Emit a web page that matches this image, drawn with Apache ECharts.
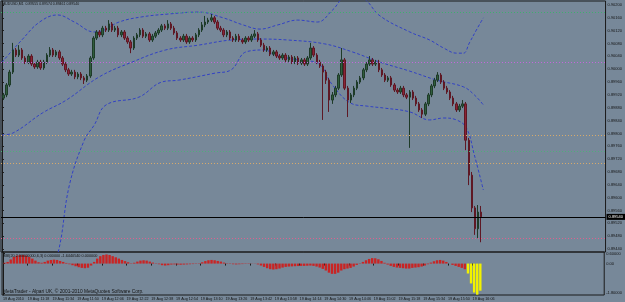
<!DOCTYPE html>
<html>
<head>
<meta charset="utf-8">
<script src="https://cdn.jsdelivr.net/npm/echarts@6/dist/echarts.min.js"></script>
<style>
html, body { margin: 0; padding: 0; background: #778899; }
#chart { width: 625px; height: 302px; }
</style>
</head>
<body>
<div id="chart"></div>
<script>
const symbolName = "AUDUSD,M1";
const oscName = "BBI(20,2.00000000,6,3) 0.000000 -1.6440540 0.000000";
const footerText = "MetaTrader - Alpari UK, \u00a9 2001-2010 MetaQuotes Software Corp.";

// minutes after 11:02, one candle every 2 minutes
const barMinutes = 2;
const firstBarMinute = 1;

const timeTicks = [0, 16, 32, 48, 64, 80, 96, 112, 128, 144, 160, 176, 192, 208, 224, 240, 256, 272, 288, 304];
const timeLabels = ["19 Aug 2010", "19 Aug 11:18", "19 Aug 11:34", "19 Aug 11:50", "19 Aug 12:06",
  "19 Aug 12:22", "19 Aug 12:38", "19 Aug 12:54", "19 Aug 13:10", "19 Aug 13:26", "19 Aug 13:42",
  "19 Aug 13:58", "19 Aug 14:14", "19 Aug 14:30", "19 Aug 14:46", "19 Aug 15:02", "19 Aug 15:18",
  "19 Aug 15:34", "19 Aug 15:50", "19 Aug 16:06"];

const priceTicks = [0.89440, 0.89480, 0.89520, 0.89560, 0.89600, 0.89640, 0.89680, 0.89720, 0.89760, 0.89800,
  0.89840, 0.89880, 0.89920, 0.89960, 0.90000, 0.90040, 0.90080, 0.90120, 0.90160, 0.90200];
const oscTicks = [0.6, 0, -1.8];

// open, close, low, high
const candles = [
  [0.89910,0.89920,0.89904,0.89926],[0.89920,0.89951,0.89913,0.89957],[0.89951,0.89991,0.89945,0.89998],
  [0.89991,0.90060,0.89985,0.90082],[0.90060,0.90044,0.90038,0.90066],[0.90044,0.90060,0.90038,0.90075],
  [0.90060,0.90035,0.90029,0.90066],[0.90035,0.90022,0.90016,0.90041],[0.90022,0.90041,0.90016,0.90047],
  [0.90041,0.90016,0.90010,0.90047],[0.90016,0.90007,0.90001,0.90022],[0.90007,0.90022,0.90001,0.90029],
  [0.90022,0.90004,0.89998,0.90029],[0.90004,0.90022,0.89998,0.90029],[0.90022,0.90044,0.90016,0.90050],
  [0.90044,0.90060,0.90038,0.90069],[0.90060,0.90044,0.90038,0.90066],[0.90044,0.90054,0.90038,0.90060],
  [0.90054,0.90035,0.90029,0.90060],[0.90035,0.90016,0.90010,0.90041],[0.90016,0.89998,0.89991,0.90022],
  [0.89998,0.89985,0.89979,0.90004],[0.89985,0.89991,0.89979,0.89998],[0.89991,0.89976,0.89969,0.89998],
  [0.89976,0.89985,0.89969,0.89991],[0.89985,0.89973,0.89966,0.89991],[0.89973,0.89966,0.89954,0.89979],
  [0.89966,0.89979,0.89960,0.89985],[0.89979,0.90035,0.89973,0.90041],[0.90035,0.90097,0.90029,0.90103],
  [0.90097,0.90116,0.90091,0.90122],[0.90116,0.90107,0.90100,0.90122],[0.90107,0.90128,0.90100,0.90135],
  [0.90128,0.90122,0.90116,0.90135],[0.90122,0.90141,0.90116,0.90153],[0.90141,0.90122,0.90116,0.90147],
  [0.90122,0.90128,0.90116,0.90135],[0.90128,0.90107,0.90100,0.90135],[0.90107,0.90116,0.90100,0.90122],
  [0.90116,0.90097,0.90091,0.90122],[0.90097,0.90085,0.90079,0.90103],[0.90085,0.90066,0.90050,0.90091],
  [0.90066,0.90097,0.90060,0.90103],[0.90097,0.90107,0.90091,0.90113],[0.90107,0.90122,0.90100,0.90128],
  [0.90122,0.90103,0.90097,0.90128],[0.90103,0.90110,0.90097,0.90116],[0.90110,0.90091,0.90085,0.90116],
  [0.90091,0.90103,0.90085,0.90110],[0.90103,0.90113,0.90097,0.90119],[0.90113,0.90122,0.90107,0.90128],
  [0.90122,0.90135,0.90116,0.90141],[0.90135,0.90128,0.90122,0.90141],[0.90128,0.90141,0.90122,0.90153],
  [0.90141,0.90128,0.90122,0.90147],[0.90128,0.90113,0.90107,0.90135],[0.90113,0.90097,0.90091,0.90119],
  [0.90097,0.90091,0.90085,0.90103],[0.90091,0.90103,0.90085,0.90110],[0.90103,0.90085,0.90079,0.90110],
  [0.90085,0.90097,0.90079,0.90103],[0.90097,0.90091,0.90085,0.90103],[0.90091,0.90107,0.90085,0.90113],
  [0.90107,0.90122,0.90100,0.90128],[0.90122,0.90138,0.90116,0.90147],[0.90138,0.90147,0.90131,0.90166],
  [0.90147,0.90153,0.90141,0.90160],[0.90153,0.90160,0.90147,0.90172],[0.90160,0.90147,0.90141,0.90166],
  [0.90147,0.90128,0.90122,0.90153],[0.90128,0.90122,0.90116,0.90135],[0.90122,0.90107,0.90100,0.90128],
  [0.90107,0.90116,0.90100,0.90122],[0.90116,0.90097,0.90091,0.90122],[0.90097,0.90091,0.90085,0.90103],
  [0.90091,0.90103,0.90085,0.90110],[0.90103,0.90091,0.90085,0.90110],[0.90091,0.90085,0.90079,0.90097],
  [0.90085,0.90097,0.90079,0.90103],[0.90097,0.90091,0.90085,0.90103],[0.90091,0.90103,0.90085,0.90110],
  [0.90103,0.90110,0.90097,0.90122],[0.90110,0.90091,0.90085,0.90116],[0.90091,0.90075,0.90069,0.90097],
  [0.90075,0.90060,0.90054,0.90082],[0.90060,0.90066,0.90054,0.90072],[0.90066,0.90047,0.90041,0.90072],
  [0.90047,0.90054,0.90041,0.90060],[0.90054,0.90041,0.90035,0.90060],[0.90041,0.90035,0.90029,0.90047],
  [0.90035,0.90044,0.90029,0.90050],[0.90044,0.90029,0.90022,0.90050],[0.90029,0.90038,0.90022,0.90044],
  [0.90038,0.90022,0.90016,0.90044],[0.90022,0.90035,0.90016,0.90041],[0.90035,0.90019,0.90013,0.90041],
  [0.90019,0.90029,0.90013,0.90035],[0.90029,0.90016,0.90010,0.90035],[0.90016,0.90035,0.90010,0.90041],
  [0.90035,0.90066,0.90029,0.90082],[0.90066,0.90044,0.90038,0.90072],[0.90044,0.90022,0.90016,0.90050],
  [0.90022,0.90010,0.90004,0.90029],[0.90010,0.89991,0.89842,0.90016],[0.89991,0.89966,0.89954,0.89998],
  [0.89966,0.89904,0.89867,0.89973],[0.89904,0.89920,0.89892,0.89929],[0.89920,0.89941,0.89913,0.89948],
  [0.89941,0.89982,0.89935,0.89988],[0.89982,0.90029,0.89976,0.90066],[0.90029,0.89941,0.89935,0.90035],
  [0.89941,0.89904,0.89851,0.89948],[0.89904,0.89920,0.89895,0.89926],[0.89920,0.89941,0.89913,0.89948],
  [0.89941,0.89960,0.89935,0.89966],[0.89960,0.89973,0.89954,0.89979],[0.89973,0.89998,0.89966,0.90004],
  [0.89998,0.90016,0.89991,0.90022],[0.90016,0.90029,0.90010,0.90041],[0.90029,0.90016,0.90010,0.90035],
  [0.90016,0.90022,0.90010,0.90029],[0.90022,0.89998,0.89991,0.90029],[0.89998,0.89982,0.89976,0.90004],
  [0.89982,0.89966,0.89960,0.89988],[0.89966,0.89973,0.89960,0.89979],[0.89973,0.89951,0.89945,0.89979],
  [0.89951,0.89935,0.89929,0.89957],[0.89935,0.89929,0.89923,0.89941],[0.89929,0.89941,0.89923,0.89948],
  [0.89941,0.89920,0.89913,0.89948],[0.89920,0.89913,0.89907,0.89926],[0.89913,0.89929,0.89755,0.89935],
  [0.89929,0.89910,0.89904,0.89935],[0.89910,0.89892,0.89885,0.89917],[0.89892,0.89873,0.89867,0.89898],
  [0.89873,0.89860,0.89848,0.89879],[0.89860,0.89892,0.89854,0.89898],[0.89892,0.89920,0.89885,0.89926],
  [0.89920,0.89948,0.89913,0.89954],[0.89948,0.89966,0.89941,0.89973],[0.89966,0.89982,0.89960,0.89991],
  [0.89982,0.89960,0.89954,0.89988],[0.89960,0.89941,0.89935,0.89966],[0.89941,0.89929,0.89923,0.89948],
  [0.89929,0.89910,0.89904,0.89935],[0.89910,0.89892,0.89885,0.89917],[0.89892,0.89873,0.89867,0.89898],
  [0.89873,0.89885,0.89867,0.89892],[0.89885,0.89892,0.89879,0.89904],[0.89892,0.89779,0.89748,0.89898],
  [0.89779,0.89670,0.89639,0.89786],[0.89670,0.89568,0.89555,0.89680],[0.89568,0.89503,0.89484,0.89574],
  [0.89503,0.89555,0.89474,0.89577],[0.89555,0.89540,0.89461,0.89574]
];

// bollinger bands, [minute, price]
const bbUpper = [[0,0.90022],[12.8,0.90091],[24.3,0.90147],[35.8,0.90169],[46.7,0.90147],[59.5,0.90116],
  [65.9,0.90122],[75.5,0.90147],[90.2,0.90163],[107.5,0.90172],[126.7,0.90178],[142.7,0.90160],
  [155.5,0.90138],[166.4,0.90125],[177.9,0.90138],[190.7,0.90153],[203.5,0.90147],[213.1,0.90184],
  [222.7,0.90228],[232.3,0.90222],[243.8,0.90166],[263.0,0.90116],[275.8,0.90091],[284.8,0.90066],
  [293.1,0.90050],[297.6,0.90050],[301.4,0.90082],[305.9,0.90122],[310.4,0.90160]];
const bbMiddle = [[0,0.89795],[7.0,0.89801],[26.2,0.89864],[41.6,0.89904],[62.7,0.89976],[83.8,0.90022],
  [105.6,0.90060],[126.7,0.90075],[147.8,0.90091],[165.1,0.90094],[184.3,0.90091],[208.0,0.90079],
  [225.9,0.90054],[243.8,0.90022],[263.0,0.89994],[280.3,0.89966],[297.6,0.89945],[304.6,0.89920],
  [310.4,0.89889]];
const bbLower = [[0,0.89188],[24.3,0.89281],[35.8,0.89421],[43.5,0.89639],[53.1,0.89779],
  [59.5,0.89826],[67.2,0.89889],[88.3,0.89913],[103.0,0.89960],[113.9,0.89966],[137.6,0.89988],
  [147.8,0.89998],[157.4,0.90054],[169.6,0.90060],[176.0,0.90044],[190.7,0.90029],[203.5,0.90019],
  [213.1,0.89951],[224.6,0.89895],[235.5,0.89885],[246.4,0.89879],[263.0,0.89867],[275.8,0.89842],
  [284.8,0.89848],[293.1,0.89842],[299.5,0.89817],[304.6,0.89733],[310.4,0.89624]];

// horizontal levels
const levelPrices = [0.90178, 0.90022, 0.89795, 0.89745, 0.89708, 0.89474];
const levelColors = ["#3fae6e", "#c466dc", "#d8aa6a", "#4fae7a", "#d8aa6a", "#e0608e"];

// oscillator histogram, one value per candle
const oscValues = [
  0.05,0.1,0.25,0.4,0.48,0.52,0.52,0.48,0.4,0.3,
  0.18,0.08,0.05,0.1,0.18,0.22,0.24,0.22,0.16,0.1,
  0.04,-0.04,-0.1,-0.16,-0.22,-0.26,-0.28,-0.25,-0.12,0.1,
  0.3,0.45,0.52,0.55,0.52,0.45,0.38,0.3,0.22,0.15,
  0.08,0.02,0.05,0.12,0.18,0.2,0.18,0.12,0.06,0.02,
  -0.04,-0.1,-0.12,-0.1,-0.06,-0.05,-0.06,-0.07,-0.06,-0.05,
  -0.04,-0.03,-0.02,0.02,0.08,0.15,0.2,0.22,0.2,0.16,
  0.12,0.06,0.02,-0.02,-0.04,-0.05,-0.04,-0.03,-0.02,-0.02,
  -0.01,0.01,-0.05,-0.12,-0.2,-0.28,-0.34,-0.36,-0.34,-0.3,
  -0.24,-0.2,-0.18,-0.17,-0.16,-0.15,-0.14,-0.14,-0.13,-0.12,
  -0.14,-0.18,-0.24,-0.32,-0.42,-0.55,-0.62,-0.62,-0.55,-0.42,
  -0.34,-0.3,-0.26,-0.18,-0.08,0.02,0.1,0.2,0.28,0.33,
  0.32,0.26,0.16,0.05,-0.06,-0.14,-0.2,-0.24,-0.26,-0.28,
  -0.3,-0.3,-0.26,-0.24,-0.22,-0.18,-0.12,-0.04,0.06,0.14,
  0.2,0.22,0.18,0.1,0.0,-0.08,-0.14,-0.2,-0.26,-0.34,
  -0.6,-1.2,-1.75,-1.88,-1.64
];
const oscSignalFrom = 150; // yellow bars from this candle on

let myChart = echarts.init(document.getElementById("chart"));

let barTime = (i) => firstBarMinute + i * barMinutes;
let last = candles[candles.length - 1];
let lastClose = last[1];
let titleText = symbolName + "  " + [last[0], last[3], last[2], last[1]].map(v => v.toFixed(5)).join(" ");

let textColor = "#141414";
let font = "Liberation Sans";

let bandStyle = {color: "#3242c4", width: 1, type: [3, 2]};
let titleStyle = (size) => ({fontSize: size, color: textColor, fontWeight: "normal", fontFamily: font});

// one empty line series per horizontal level, each carrying its own markLine
// (precision 5, otherwise markLine rounds the price to 2 decimals)
let levelSeries = levelPrices.map((p, k) => ({
  type: "line", name: "level" + k, xAxisIndex: 0, yAxisIndex: 0,
  data: [], silent: true, z: 2,
  markLine: {
    silent: true, symbol: ["none", "none"], animation: false, precision: 5,
    lineStyle: {color: levelColors[k], type: [1, 2], width: 1},
    label: {show: false},
    data: [{yAxis: p}]
  }
}));

let priceLine = {
  type: "line", name: "price", xAxisIndex: 0, yAxisIndex: 0,
  data: [], silent: true, z: 4,
  markLine: {
    silent: true, symbol: ["none", "none"], animation: false, precision: 5,
    lineStyle: {color: "#000", type: "solid", width: 1},
    label: {
      show: true, position: "end", distance: 1,
      formatter: lastClose.toFixed(5),
      backgroundColor: "#000", color: "#fff",
      fontSize: 4, fontFamily: font, padding: [1, 2]
    },
    data: [{yAxis: lastClose}]
  }
};

let option = {
  backgroundColor: "#778899",
  animation: false,
  title: [
    {text: titleText, left: 3, top: 2, padding: 0, textStyle: titleStyle(3.5)},
    {text: oscName, left: 3, top: 254, padding: 0, textStyle: titleStyle(3.8)},
    {text: footerText, left: 3, top: 289.5, padding: 0, textStyle: titleStyle(4.8)}
  ],
  grid: [
    {left: 1, top: 1, width: 610, height: 251, show: true, borderColor: "#1a1a1a", borderWidth: 1, backgroundColor: "transparent"},
    {left: 1, top: 252, width: 610, height: 43, show: true, borderColor: "#1a1a1a", borderWidth: 1, backgroundColor: "transparent"}
  ],
  xAxis: [
    {
      type: "value", gridIndex: 0, min: -0.6, max: 389.2,
      axisLine: {show: false}, axisTick: {show: false}, axisLabel: {show: false}, splitLine: {show: false}
    },
    {
      type: "value", gridIndex: 1, min: -0.6, max: 389.2,
      axisLine: {show: false},
      splitLine: {show: false},
      axisTick: {show: true, length: 2, lineStyle: {color: "#1a1a1a"}, customValues: timeTicks},
      axisLabel: {
        show: true, customValues: timeTicks, margin: 1.5, align: "left",
        fontSize: 3.7, color: textColor, fontFamily: font,
        formatter: (v) => timeLabels[timeTicks.indexOf(Math.round(v))] || ""
      }
    }
  ],
  yAxis: [
    {
      type: "value", gridIndex: 0, position: "right",
      min: 0.894306, max: 0.902125,
      axisLine: {show: true, lineStyle: {color: "#1a1a1a"}},
      axisTick: {show: true, length: 2, lineStyle: {color: "#1a1a1a"}, customValues: priceTicks},
      splitLine: {show: false},
      axisLabel: {
        show: true, customValues: priceTicks, margin: 2, fontSize: 4, color: textColor, fontFamily: font,
        formatter: (v) => v.toFixed(5)
      }
    },
    {
      type: "value", gridIndex: 1, position: "right",
      min: -1.9, max: 0.7,
      axisLine: {show: true, lineStyle: {color: "#1a1a1a"}},
      axisTick: {show: true, length: 2, lineStyle: {color: "#1a1a1a"}, customValues: oscTicks},
      splitLine: {show: false},
      axisLabel: {
        show: true, customValues: oscTicks, margin: 2, fontSize: 4, color: textColor, fontFamily: font,
        formatter: (v) => v === 0 ? "0.00" : v.toFixed(5)
      }
    }
  ],
  series: [
    ...levelSeries,
    {
      type: "line", name: "upper", xAxisIndex: 0, yAxisIndex: 0,
      data: bbUpper, smooth: 0.4, showSymbol: false, lineStyle: bandStyle, z: 1, silent: true
    },
    {
      type: "line", name: "middle", xAxisIndex: 0, yAxisIndex: 0,
      data: bbMiddle, smooth: 0.4, showSymbol: false, lineStyle: bandStyle, z: 1, silent: true
    },
    {
      type: "line", name: "lower", xAxisIndex: 0, yAxisIndex: 0,
      data: bbLower, smooth: 0.4, showSymbol: false, lineStyle: bandStyle, z: 1, silent: true
    },
    {
      type: "candlestick", name: symbolName, xAxisIndex: 0, yAxisIndex: 0,
      data: candles.map((c, i) => [barTime(i), c[0], c[1], c[2], c[3]]),
      encode: {x: 0, y: [1, 2, 3, 4]},
      barWidth: 2,
      z: 3,
      itemStyle: {
        color: "#2f5d3d", borderColor: "#1e3b28",
        color0: "#8b2436", borderColor0: "#5e1824",
        borderWidth: 1
      }
    },
    priceLine,
    {
      type: "bar", name: "osc", xAxisIndex: 1, yAxisIndex: 1,
      data: oscValues.map((v, i) => ({
        value: [barTime(i), v],
        itemStyle: {color: i >= oscSignalFrom ? "#f2f200" : "#c92424"}
      })),
      barWidth: 2.4,
      silent: true
    }
  ]
};
myChart.setOption(option);
</script>
</body>
</html>
